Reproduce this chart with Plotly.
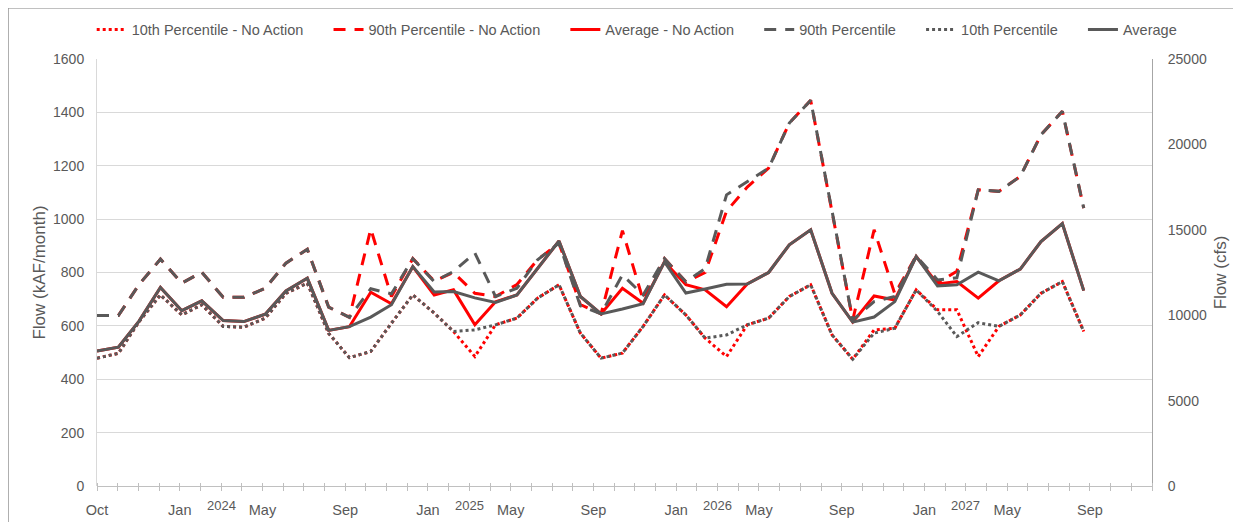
import plotly.graph_objects as go
import pandas as pd

# ---------------- data ----------------
months = pd.date_range("2023-10-01", "2027-09-01", freq="MS").strftime("%Y-%m-%d").tolist()

p10_na = [479, 497, 616, 716, 641, 679, 598, 595, 629, 722, 760, 572,
          481, 504, 610, 716, 648, 579, 485, 604, 629, 704, 754, 573,
          479, 498, 598, 716, 641, 554, 485, 604, 629, 710, 754, 566,
          475, 585, 591, 735, 660, 660, 485, 598, 641, 722, 766, 579]
p90_na = [639, 639, 755, 850, 760, 801, 707, 707, 741, 835, 887, 670,
          632, 963, 710, 852, 768, 800, 722, 710, 755, 848, 910, 680,
          645, 957, 697, 852, 765, 800, 1030, 1120, 1191, 1360, 1445, 1030,
          622, 960, 720, 862, 760, 805, 1110, 1104, 1160, 1316, 1404, 1041]
avg_na = [506, 520, 618, 744, 657, 694, 620, 616, 644, 731, 779, 583,
          597, 726, 683, 822, 716, 735, 604, 690, 716, 816, 918, 710,
          645, 741, 685, 840, 754, 735, 672, 757, 800, 904, 960, 722,
          614, 712, 697, 860, 757, 766, 704, 769, 813, 916, 983, 732]
p90 = [639, 639, 755, 850, 760, 801, 707, 707, 741, 835, 887, 670,
       632, 739, 720, 852, 766, 804, 873, 710, 741, 848, 910, 675,
       645, 791, 716, 852, 765, 815, 1091, 1141, 1191, 1360, 1445, 1030,
       622, 691, 710, 862, 772, 780, 1110, 1104, 1160, 1316, 1404, 1041]
p10 = [479, 497, 616, 716, 641, 679, 598, 595, 629, 722, 760, 572,
       481, 504, 610, 716, 648, 579, 585, 604, 629, 704, 754, 573,
       479, 498, 598, 716, 641, 554, 566, 604, 629, 710, 754, 566,
       475, 573, 591, 735, 654, 560, 612, 598, 641, 722, 766, 579]
avg = [506, 520, 618, 744, 657, 694, 620, 616, 644, 731, 779, 583,
       597, 633, 679, 822, 727, 729, 705, 688, 716, 816, 918, 710,
       645, 663, 683, 840, 723, 738, 756, 757, 800, 904, 960, 722,
       614, 633, 691, 860, 750, 754, 801, 769, 813, 916, 983, 732]

month_labels = ["Oct", "Jan", "May", "Sep", "Jan", "May", "Sep",
                "Jan", "May", "Sep", "Jan", "May", "Sep"]
year_labels = ["2024", "2025", "2026", "2027"]
left_ticks = [0, 200, 400, 600, 800, 1000, 1200, 1400, 1600]
right_ticks = [0, 5000, 10000, 15000, 20000, 25000]

# ---------------- styling ----------------
RED = "#FF0000"
GRAY = "#595959"
TXT = "#595959"
FONT = "Liberation Sans, Arial, sans-serif"
DASH = "12px,9px"
PAD = "\u00a0" * 5

axis_start = pd.Timestamp("2023-10-01")
tick_dates = [(axis_start + pd.Timedelta(days=30 * k)).strftime("%Y-%m-%d") for k in range(52)]
tick_text = [month_labels[k // 4] if k % 4 == 0 else "" for k in range(52)]
year_pos = [tick_dates[6], tick_dates[18], tick_dates[30], tick_dates[42]]

# figure coordinates (page body adds an 8px offset)
W, H = 1241, 522
L, R, T, B = 89.3, 96.7, 51.4, 44.0
plot_h = H - T - B
plot_w = W - L - R

fig = go.Figure()
series = [
    ("10th Percentile - No Action" + PAD, p10_na, RED, "dot"),
    ("90th Percentile - No Action" + PAD, p90_na, RED, DASH),
    ("Average - No Action" + PAD, avg_na, RED, "solid"),
    ("90th Percentile" + PAD, p90, GRAY, DASH),
    ("10th Percentile" + PAD, p10, GRAY, "dot"),
    ("Average", avg, GRAY, "solid"),
]
for name, vals, col, dash in series:
    fig.add_trace(go.Scatter(x=months, y=vals, name=name, mode="lines",
                             line=dict(color=col, width=3, dash=dash)))

# keeps the secondary (cfs) axis alive
fig.add_trace(go.Scatter(x=[months[0]], y=[0], yaxis="y2", mode="lines",
                         showlegend=False, hoverinfo="skip", line=dict(width=0)))

for lbl, pos in zip(year_labels, year_pos):
    fig.add_annotation(x=pos, xref="x", y=-19.0 / plot_h, yref="paper",
                       text=lbl, showarrow=False, yanchor="middle",
                       font=dict(family=FONT, size=13, color=TXT))

# chart-area border
fig.add_shape(type="rect", xref="paper", yref="paper",
              x0=(0.5 - L) / plot_w, x1=(W + 20 - L) / plot_w,
              y0=-(B + 20) / plot_h, y1=(H - B - 0.5) / plot_h,
              line=dict(color="#8c8c8c", width=1), layer="below")

fig.update_layout(
    width=W, height=H,
    margin=dict(l=L, r=R, t=T, b=B, pad=0, autoexpand=False),
    paper_bgcolor="white", plot_bgcolor="white",
    font=dict(family=FONT, size=14, color=TXT),
    showlegend=True,
    legend=dict(orientation="h", x=(84 - L) / plot_w, xanchor="left",
                y=(H - B - 22) / plot_h, yanchor="middle",
                font=dict(family=FONT, size=14.5, color=TXT),
                bgcolor="rgba(0,0,0,0)", itemclick=False, itemdoubleclick=False),
    xaxis=dict(type="date", range=[tick_dates[0], tick_dates[-1]],
               tickmode="array", tickvals=tick_dates, ticktext=tick_text,
               ticks="outside", ticklen=8, tickcolor="#bfbfbf", tickwidth=1,
               showline=False, showgrid=False, zeroline=False,
               anchor="free", position=4.0 / plot_h,
               ticklabelstandoff=7,
               tickfont=dict(family=FONT, size=14.5, color=TXT)),
    yaxis=dict(range=[0, 1600], tickmode="array", tickvals=left_ticks,
               showgrid=True, gridcolor="#d9d9d9", gridwidth=1,
               zeroline=True, zerolinecolor="#c0c0c0", zerolinewidth=1,
               showline=True, linecolor="#d9d9d9", linewidth=1,
               ticks="", ticklabelstandoff=9,
               tickfont=dict(family=FONT, size=14, color=TXT),
               title=dict(text="Flow (kAF/month)", standoff=3,
                          font=dict(family=FONT, size=17, color=TXT))),
    yaxis2=dict(range=[0, 25000], overlaying="y", side="right",
                tickmode="array", tickvals=right_ticks,
                ticktext=[str(v) for v in right_ticks],
                showgrid=False, zeroline=False,
                showline=True, linecolor="#a6a6a6", linewidth=1,
                ticks="", ticklabelstandoff=12,
                tickfont=dict(family=FONT, size=14, color=TXT),
                title=dict(text="Flow (cfs)", standoff=8,
                           font=dict(family=FONT, size=17, color=TXT))),
)

fig.write_html("out.html")
